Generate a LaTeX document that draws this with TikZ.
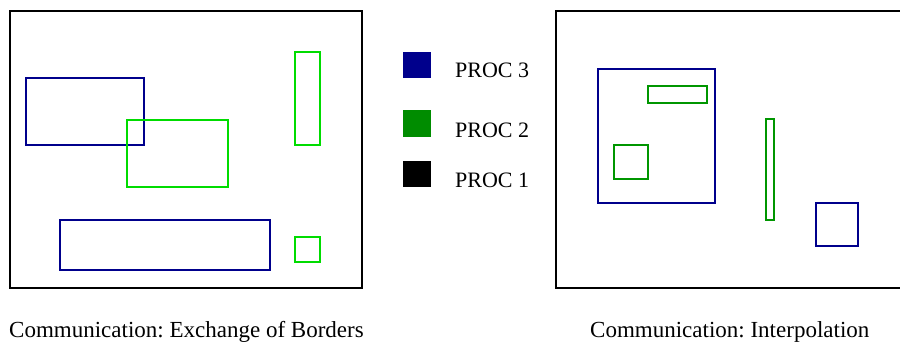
\documentclass[tikz,border=0pt]{standalone}
\usepackage{fontspec}
\setmainfont{Liberation Serif}
\frenchspacing
\definecolor{procthree}{RGB}{0,0,140}
\definecolor{proctwo}{RGB}{0,140,0}
\definecolor{proctwolight}{RGB}{0,220,0}
\definecolor{proctwodark}{RGB}{0,150,0}
\tikzset{
  frame/.style={draw=black, line width=1.3pt},
  blockthree/.style={draw=procthree, line width=1.2pt},
  blocktwo/.style={draw=proctwolight, line width=1.2pt},
  blocktwodark/.style={draw=proctwodark, line width=1.2pt},
  legendtext/.style={anchor=base west, inner sep=0pt, font=\fontsize{22}{26}\selectfont},
  caption/.style={anchor=base west, inner sep=0pt, font=\fontsize{23}{27}\selectfont}
}
\begin{document}
\begin{tikzpicture}[x=1pt, y=-1pt]
\useasboundingbox (0,0) rectangle (900,341);
\clip (0,0) rectangle (900,341);

% left domain: exchange of borders
\draw[frame] (10,11) rectangle (362,288);
\draw[blockthree] (26,78) rectangle (144,145);
\draw[blocktwo] (127,120) rectangle (228,187);
\draw[blocktwo] (295,52) rectangle (320,145);
\draw[blockthree] (60,220) rectangle (270,270);
\draw[blocktwo] (295,237) rectangle (320,262);

% legend
\fill[procthree] (403,52) rectangle (431,78);
\fill[proctwo] (403,110) rectangle (431,137);
\fill[black] (403,161) rectangle (431,187);
\node[legendtext] (p3) at (455,77) {PROC 3};
\node[legendtext] (p2) at (455,137) {PROC 2};
\node[legendtext] (p1) at (455,187) {PROC 1};

% right domain: interpolation
\draw[frame] (556,11) rectangle (905,288);
\draw[blockthree] (598,69) rectangle (715,203);
\draw[blocktwodark] (648,86) rectangle (707,103);
\draw[blocktwodark] (614,145) rectangle (648,179);
\draw[blocktwodark] (766,119) rectangle (774,220);
\draw[blockthree] (816,203) rectangle (858,246);

% captions
\node[caption] (capl) at (9,337) {Communication: Exchange of Borders};
\node[caption] (capr) at (590,337) {Communication: Interpolation};
\end{tikzpicture}
\end{document}
